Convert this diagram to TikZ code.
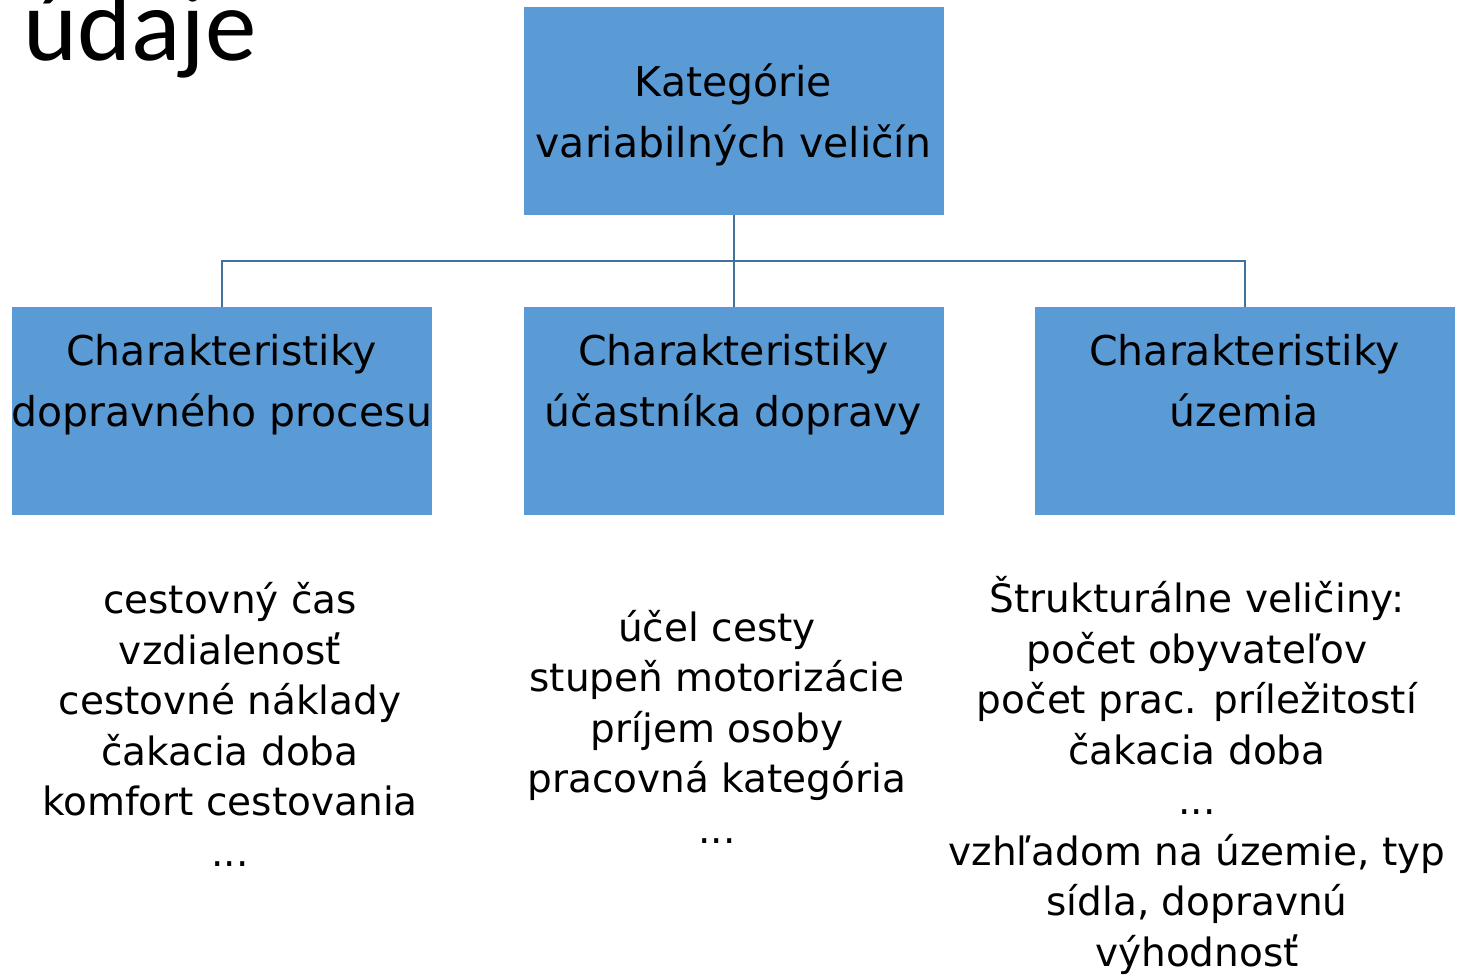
\documentclass[tikz,border=0pt]{standalone}
\usepackage{fontspec}
\setmainfont{DejaVu Sans}
\newfontfamily\titlefont{Carlito}
\definecolor{boxblue}{HTML}{5B9BD5}
\definecolor{linkblue}{HTML}{41719C}
\tikzset{
  catbox/.style={fill=boxblue, draw=none, minimum width=210pt, minimum height=104pt, inner sep=0pt},
  boxtext/.style={align=center, inner sep=0pt, font=\fontsize{20.5}{30.5}\selectfont},
  listtext/.style={align=center, inner sep=0pt, font=\fontsize{19.5}{25.25}\selectfont},
  link/.style={draw=linkblue, line width=1pt}
}
\begin{document}
\begin{tikzpicture}[x=0.5pt, y=-0.5pt]
\useasboundingbox (0,0) rectangle (1457,976);
\node[anchor=base west, inner sep=0pt, font=\titlefont\fontsize{51.5}{60}\selectfont] (title) at (23,60) {údaje};
\node[catbox] (top) at (733.5,111) {};
\node[catbox] (b1) at (221.5,411) {};
\node[catbox] (b2) at (733.5,411) {};
\node[catbox] (b3) at (1244.5,411) {};
\node[boxtext] (ttop) at (733.5,115) {\strut Kategórie\\\strut variabilných veličín};
\node[boxtext] (t1) at (221.5,384) {\strut Charakteristiky\\\strut dopravného procesu};
\node[boxtext] (t2) at (733.5,384) {\strut Charakteristiky\\\strut účastníka dopravy};
\node[boxtext] (t3) at (1244.5,384) {\strut Charakteristiky\\\strut územia};
\coordinate (junction) at (733.5,261);
\draw[link] (top.south) -- (junction);
\draw[link] (junction) -| (b1.north);
\draw[link] (junction) -- (b2.north);
\draw[link] (junction) -| (b3.north);
\node[listtext] (l1) at (230,730) {\strut cestovný čas\\\strut vzdialenosť\\\strut cestovné náklady\\\strut čakacia doba\\\strut komfort cestovania\\\strut ...};
\node[listtext] (l2) at (717,732) {\strut účel cesty\\\strut stupeň motorizácie\\\strut príjem osoby\\\strut pracovná kategória\\\strut ...};
\node[listtext] (l3) at (1197,779) {\strut Štrukturálne veličiny:\\\strut počet obyvateľov\\\strut počet prac. príležitostí\\\strut čakacia doba\\\strut ...\\\strut vzhľadom na územie, typ\\\strut sídla, dopravnú\\\strut výhodnosť};
\end{tikzpicture}
\end{document}
